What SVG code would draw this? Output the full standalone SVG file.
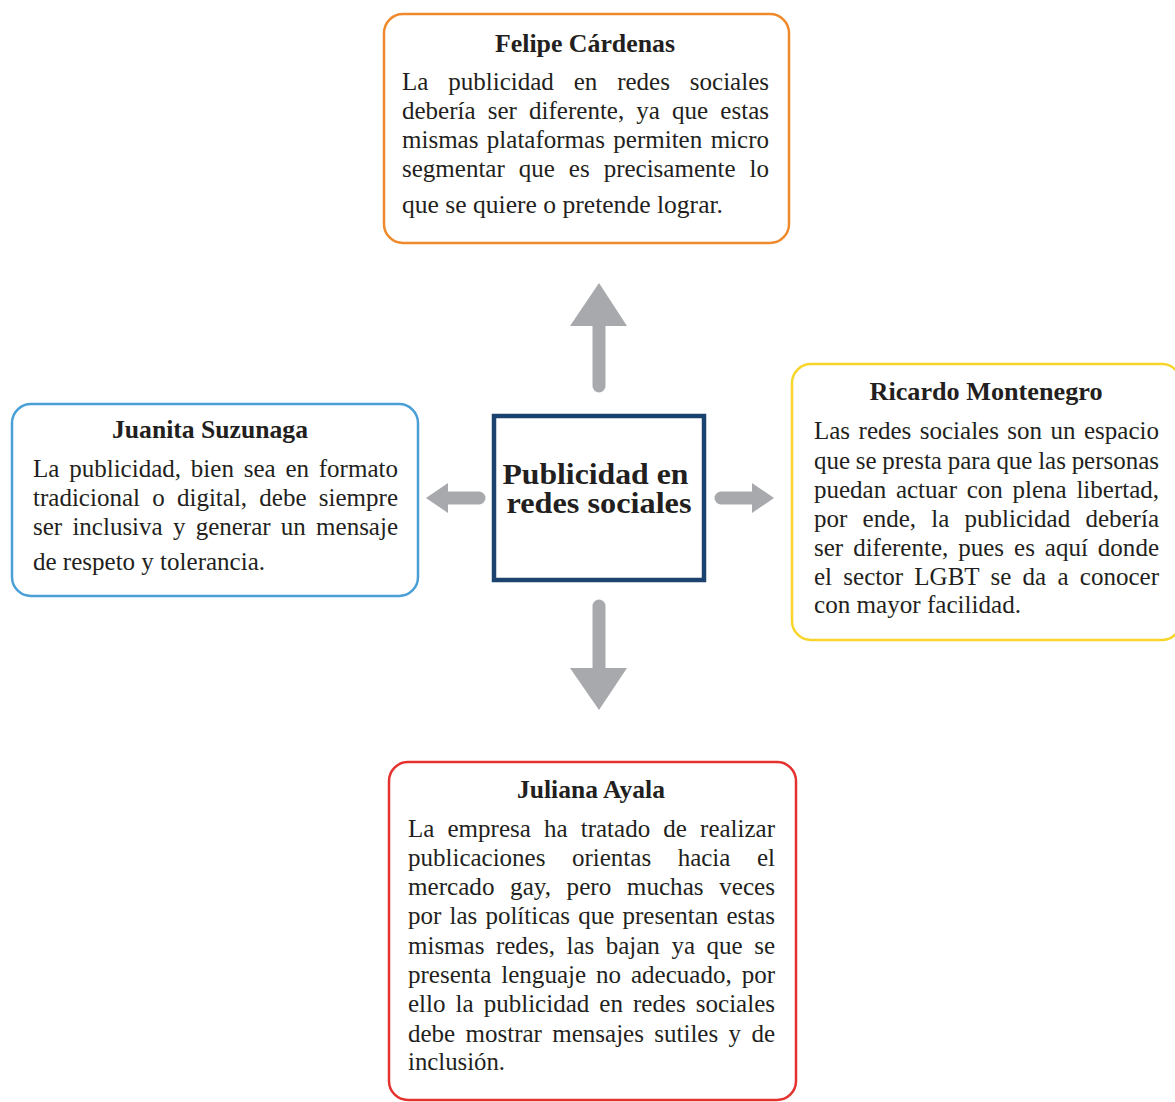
<svg xmlns="http://www.w3.org/2000/svg" width="1175" height="1102" viewBox="0 0 1175 1102">
  <style>
    .box { fill: #ffffff; stroke-width: 2.5; }
    .title { font-family: "Liberation Serif", "Times New Roman", serif; font-weight: bold; font-size: 25px; fill: #231f20; text-anchor: middle; }
    .body { font-family: "Liberation Serif", "Times New Roman", serif; font-size: 25px; fill: #231f20; }
    .center { font-family: "Liberation Serif", "Times New Roman", serif; font-weight: bold; font-size: 29px; fill: #231f20; text-anchor: middle; }
    .shaft { stroke: #a7a9ac; stroke-width: 13; stroke-linecap: round; fill: none; }
    .head { fill: #a7a9ac; }
  </style>
  <rect width="1175" height="1102" fill="#ffffff"/>

  <!-- arrows from the central topic -->
  <g id="connectors">
    <line class="shaft" x1="599" y1="386" x2="599" y2="322"/>
    <polygon class="head" points="570,326 627,326 599,283"/>
    <line class="shaft" x1="479" y1="498" x2="446" y2="498"/>
    <polygon class="head" points="448,483 448,513 426,498"/>
    <line class="shaft" x1="721" y1="498" x2="754" y2="498"/>
    <polygon class="head" points="752,483 752,513 774,498"/>
    <line class="shaft" x1="599" y1="606" x2="599" y2="672"/>
    <polygon class="head" points="570,668 627,668 599,710"/>
  </g>

  <g id="center">
    <rect x="494" y="416" width="210" height="164" fill="#ffffff" stroke="#1c436f" stroke-width="4.5"/>
    <text class="center">
      <tspan x="599" y="484" textLength="186" lengthAdjust="spacingAndGlyphs">Publicidad en</tspan>
      <tspan x="599" y="513" textLength="185" lengthAdjust="spacingAndGlyphs">redes sociales</tspan>
    </text>
  </g>

  <!-- justified lines: word-spacing spreads the gaps, textLength trims the rest -->
  <g id="felipe">
    <rect class="box" x="384" y="14" width="405" height="229" rx="19" stroke="#ef8a2c"/>
    <text class="title" x="585" y="52" textLength="180" lengthAdjust="spacingAndGlyphs">Felipe Cárdenas</text>
    <text class="body" x="402" y="90" word-spacing="13.6" textLength="367" lengthAdjust="spacingAndGlyphs">La publicidad en redes sociales</text>
    <text class="body" x="402" y="119" word-spacing="5.9" textLength="367" lengthAdjust="spacingAndGlyphs">debería ser diferente, ya que estas</text>
    <text class="body" x="402" y="148" word-spacing="2.2" textLength="367" lengthAdjust="spacingAndGlyphs">mismas plataformas permiten micro</text>
    <text class="body" x="402" y="177" word-spacing="7.7" textLength="367" lengthAdjust="spacingAndGlyphs">segmentar que es precisamente lo</text>
    <text class="body" x="402" y="213" textLength="321" lengthAdjust="spacingAndGlyphs">que se quiere o pretende lograr.</text>
  </g>

  <g id="juanita">
    <rect class="box" x="12" y="404" width="406" height="192" rx="19" stroke="#4a9fd6"/>
    <text class="title" x="210" y="438" textLength="196" lengthAdjust="spacingAndGlyphs">Juanita Suzunaga</text>
    <text class="body" x="33" y="477" word-spacing="3.5" textLength="365" lengthAdjust="spacingAndGlyphs">La publicidad, bien sea en formato</text>
    <text class="body" x="33" y="506" word-spacing="6" textLength="365" lengthAdjust="spacingAndGlyphs">tradicional o digital, debe siempre</text>
    <text class="body" x="33" y="535" word-spacing="4" textLength="365" lengthAdjust="spacingAndGlyphs">ser inclusiva y generar un mensaje</text>
    <text class="body" x="33" y="570" textLength="232" lengthAdjust="spacingAndGlyphs">de respeto y tolerancia.</text>
  </g>

  <g id="ricardo">
    <rect class="box" x="792" y="364" width="389" height="276" rx="19" stroke="#f7d52b"/>
    <text class="title" x="986" y="400" textLength="233" lengthAdjust="spacingAndGlyphs">Ricardo Montenegro</text>
    <text class="body" x="814" y="439" word-spacing="2.2" textLength="345" lengthAdjust="spacingAndGlyphs">Las redes sociales son un espacio</text>
    <text class="body" x="814" y="469" word-spacing="-0.5" textLength="345" lengthAdjust="spacingAndGlyphs">que se presta para que las personas</text>
    <text class="body" x="814" y="498" word-spacing="3.5" textLength="345" lengthAdjust="spacingAndGlyphs">puedan actuar con plena libertad,</text>
    <text class="body" x="814" y="527" word-spacing="9" textLength="345" lengthAdjust="spacingAndGlyphs">por ende, la publicidad debería</text>
    <text class="body" x="814" y="556" word-spacing="3.7" textLength="345" lengthAdjust="spacingAndGlyphs">ser diferente, pues es aquí donde</text>
    <text class="body" x="814" y="585" word-spacing="5" textLength="345" lengthAdjust="spacingAndGlyphs">el sector LGBT se da a conocer</text>
    <text class="body" x="814" y="613" textLength="207" lengthAdjust="spacingAndGlyphs">con mayor facilidad.</text>
  </g>

  <g id="juliana">
    <rect class="box" x="389" y="762" width="407" height="338" rx="19" stroke="#e5322f"/>
    <text class="title" x="591" y="798" textLength="148" lengthAdjust="spacingAndGlyphs">Juliana Ayala</text>
    <text class="body" x="408" y="837" word-spacing="6.9" textLength="367" lengthAdjust="spacingAndGlyphs">La empresa ha tratado de realizar</text>
    <text class="body" x="408" y="866" word-spacing="20.3" textLength="367" lengthAdjust="spacingAndGlyphs">publicaciones orientas hacia el</text>
    <text class="body" x="408" y="895" word-spacing="9.3" textLength="367" lengthAdjust="spacingAndGlyphs">mercado gay, pero muchas veces</text>
    <text class="body" x="408" y="924" word-spacing="1.9" textLength="367" lengthAdjust="spacingAndGlyphs">por las políticas que presentan estas</text>
    <text class="body" x="408" y="954" word-spacing="5.3" textLength="367" lengthAdjust="spacingAndGlyphs">mismas redes, las bajan ya que se</text>
    <text class="body" x="408" y="983" word-spacing="3.7" textLength="367" lengthAdjust="spacingAndGlyphs">presenta lenguaje no adecuado, por</text>
    <text class="body" x="408" y="1012" word-spacing="3.8" textLength="367" lengthAdjust="spacingAndGlyphs">ello la publicidad en redes sociales</text>
    <text class="body" x="408" y="1042" word-spacing="4.1" textLength="367" lengthAdjust="spacingAndGlyphs">debe mostrar mensajes sutiles y de</text>
    <text class="body" x="408" y="1070" textLength="97" lengthAdjust="spacingAndGlyphs">inclusión.</text>
  </g>
</svg>
